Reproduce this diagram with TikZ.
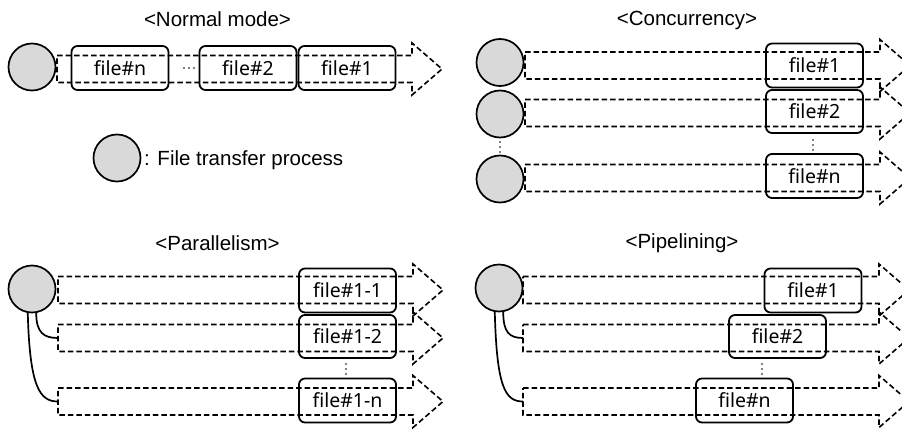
\documentclass[tikz,border=0pt]{standalone}
\usepackage{fontspec}
\setmainfont{Liberation Sans}
\newfontfamily\labelfont{Noto Sans}
\definecolor{procgray}{HTML}{D9D9D9}
\tikzset{
  proc/.style={circle, draw, fill=procgray, line width=1.7pt, minimum size=47pt, inner sep=0pt},
  flow/.style={draw, dash pattern=on 5.5pt off 3pt, line width=1.6pt, line join=miter},
  filebox/.style={draw, rounded corners=6pt, line width=1.8pt, minimum width=97pt,
                  minimum height=44pt, inner sep=0pt, font=\labelfont\fontsize{19.5}{21}\selectfont},
  title/.style={font=\fontsize{20.5}{23}\selectfont, anchor=base, inner sep=0pt},
  link/.style={line width=1.7pt},
  dotmark/.style={circle, fill=black, inner sep=0pt, minimum size=1.8pt}
}
% dashed transfer arrow: name, left x, shaft end x, centre y
\newcommand\flowarrow[4]{%
  \draw[flow] (#2,{#4-13.5}) -- (#3,{#4-13.5}) -- (#3,{#4-26}) -- ({#3+30},#4)
    -- (#3,{#4+26}) -- (#3,{#4+13.5}) -- (#2,{#4+13.5}) -- cycle;
  \coordinate (#1) at (#2,#4);}
% three small dots, vertical
\newcommand\vdotsat[3]{%
  \node[dotmark] (#1a) at (#2,{#3}) {};
  \node[dotmark] (#1b) at (#2,{#3+5}) {};
  \node[dotmark] (#1c) at (#2,{#3+10}) {};}
\begin{document}
\begin{tikzpicture}[x=1pt,y=-1pt]
\useasboundingbox (0,0) rectangle (902,431);
\clip (0,0) rectangle (902,431);

% ---------- Normal mode ----------
\node[title] (tnormal) at (217.5,27) {<Normal mode>};
\flowarrow{na}{57}{412}{69}
\node[proc] (np) at (32,67) {};
\node[filebox] (nfn) at (120,68) {file\#n};
\node[filebox] (nf2) at (248,68) {file\#2};
\node[filebox] (nf1) at (347,68) {file\#1};
\node[dotmark] (nd1) at (184,68) {};
\node[dotmark] (nd2) at (189,68) {};
\node[dotmark] (nd3) at (194,68) {};

% legend
\node[proc] (lp) at (117,158) {};
\node[anchor=west, inner sep=0pt, font=\fontsize{20.5}{23}\selectfont] (ltext) at (144,160) {: File transfer process};

% ---------- Concurrency ----------
\node[title] (tconc) at (687,25) {<Concurrency>};
\flowarrow{ca1}{525}{880}{65.5}
\flowarrow{ca2}{525}{880}{113}
\flowarrow{ca3}{525}{880}{178}
\node[proc] (cp1) at (500,62.5) {};
\node[proc] (cp2) at (500,114) {};
\node[proc] (cp3) at (500,179) {};
\node[filebox] (cf1) at (814.5,65.5) {file\#1};
\node[filebox, minimum height=43pt] (cf2) at (814.5,111.5) {file\#2};
\node[filebox] (cfn) at (814.5,176) {file\#n};
\vdotsat{cdl}{500}{142}
\vdotsat{cdr}{813}{140}

% ---------- Parallelism ----------
\node[title] (tpar) at (217.5,250) {<Parallelism>};
\flowarrow{pa1}{58}{413}{290}
\flowarrow{pa2}{58}{413}{338}
\flowarrow{pa3}{58}{413}{401.5}
\node[proc] (pp) at (32,289) {};
\node[filebox] (pf1) at (347.5,290.5) {file\#1-1};
\node[filebox, minimum height=43pt] (pf2) at (347.5,336.5) {file\#1-2};
\node[filebox] (pfn) at (347.5,400.5) {file\#1-n};
\vdotsat{pd}{346}{364}
\draw[link] (pp.-80) .. controls +(0,20) and +(-14,0) .. (pa2);
\draw[link] (pp.-100) .. controls +(2,75) and +(-18,0) .. (pa3);

% ---------- Pipelining ----------
\node[title] (tpipe) at (682,248) {<Pipelining>};
\flowarrow{qa1}{523}{879}{290}
\flowarrow{qa2}{523}{879}{338}
\flowarrow{qa3}{523}{879}{401.5}
\node[proc] (qp) at (499,288) {};
\node[filebox] (qf1) at (813,290.5) {file\#1};
\node[filebox, minimum height=43pt] (qf2) at (777.5,336.5) {file\#2};
\node[filebox] (qfn) at (744.5,400.5) {file\#n};
\vdotsat{qd}{762}{364}
\draw[link] (qp.-80) .. controls +(0,20) and +(-14,0) .. (qa2);
\draw[link] (qp.-100) .. controls +(2,75) and +(-18,0) .. (qa3);
\end{tikzpicture}
\end{document}
